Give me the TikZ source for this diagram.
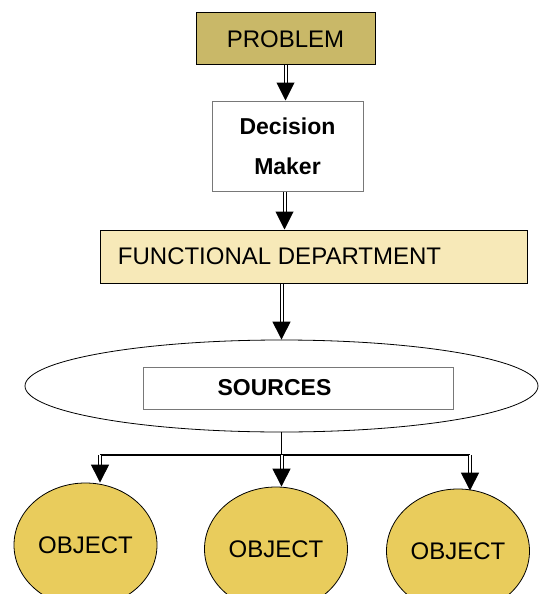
\documentclass[tikz,border=0pt]{standalone}
\usepackage{fontspec}
\setmainfont{Liberation Sans}
\usetikzlibrary{shapes.geometric,arrows.meta}
\definecolor{problemfill}{RGB}{201,184,104}
\definecolor{deptfill}{RGB}{247,233,184}
\definecolor{objfill}{RGB}{233,204,92}
\definecolor{boxline}{RGB}{120,120,120}
\begin{document}
\begin{tikzpicture}[x=1pt,y=-1pt,
  txt/.style={font=\fontsize{24}{40}\selectfont},
  box/.style={rectangle, draw=black, line width=1pt, inner sep=0pt, txt},
  greybox/.style={box, draw=boxline, fill=white},
  objnode/.style={ellipse, draw=black, line width=0.8pt, fill=objfill, inner sep=0pt, minimum width=143pt, minimum height=124pt, txt},
  dblarrow/.style={double, double distance=2pt, line width=1pt, -{Triangle[width=18pt,length=18pt]}},
  thinline/.style={line width=1.2pt}]
\useasboundingbox (0,0) rectangle (540,594);
\node [box, fill=problemfill, minimum width=179pt, minimum height=52pt] (problem) at (285.5,39) {PROBLEM};
\node [greybox, minimum width=151pt, minimum height=90pt, align=center, font=\fontsize{23}{40}\selectfont\bfseries] (dm) at (287.5,146) {Decision\\Maker};
\node [box, fill=deptfill, minimum width=427pt, minimum height=53pt] (fd) at (313.5,256.5) {\hspace*{-68pt}FUNCTIONAL DEPARTMENT};
\node [ellipse, draw=black, line width=0.8pt, fill=white, inner sep=0pt, minimum width=513pt, minimum height=92pt] (src) at (281.5,386) {};
\node [greybox, minimum width=310pt, minimum height=42pt, font=\fontsize{23}{40}\selectfont\bfseries] (srcbox) at (298,388) {\hspace*{-47pt}SOURCES};
\node [objnode] (obj1) at (85.5,545) {OBJECT};
\node [objnode] (obj2) at (276,549) {OBJECT};
\node [objnode] (obj3) at (458,551) {OBJECT};
% flow
\draw [dblarrow] (problem.south) -- (problem.south |- dm.north);
\draw [dblarrow] ([xshift=-3pt]dm.south) -- ([xshift=-3pt]dm.south |- fd.north);
\draw [dblarrow] (src.north |- fd.south) -- (src.north);
% branches
\coordinate (br) at (281.5,455);
\coordinate (brl) at (100,455);
\coordinate (brr) at (470,455);
\draw [thinline] (src.south) -- (br);
\draw [thinline] (brl) -- (brr);
\draw [dblarrow] (brl) -- (brl |- obj1.north);
\draw [dblarrow] (br) -- (br |- obj2.north);
\draw [dblarrow] (brr) -- ([yshift=-2pt]brr |- obj3.north);
\end{tikzpicture}
\end{document}
